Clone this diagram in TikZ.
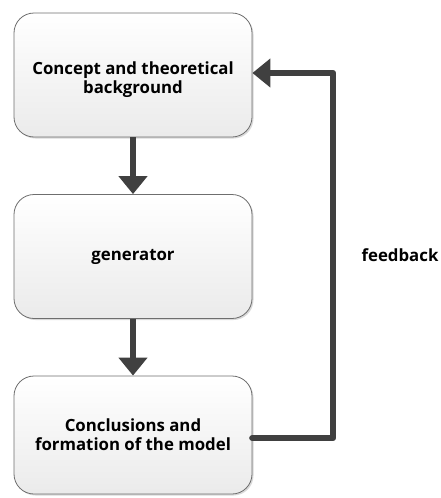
\documentclass[tikz,border=0pt]{standalone}
\usepackage{fontspec}
\setmainfont{Open Sans}
\usetikzlibrary{arrows.meta,shadows}
\definecolor{arr}{HTML}{404040}
\definecolor{bord}{HTML}{6E6E6E}
\tikzset{
  lbl/.style={font=\bfseries\fontsize{16.8}{19}\selectfont},
  box/.style={draw=bord, line width=0.8pt, rounded corners=20pt, minimum width=238pt, minimum height=124pt,
    top color=white, bottom color=black!8, align=center, lbl,
    drop shadow={shadow xshift=1.5pt, shadow yshift=-1.5pt, fill=black!25, opacity=0.6}},
  conn/.style={draw=arr, line width=6.5pt, -{Triangle[length=18pt,width=28pt]}},
  fb/.style={draw=arr, line width=6.5pt, line cap=round, line join=round, -{Triangle[length=18pt,width=28pt]}}
}
\begin{document}
\begin{tikzpicture}[x=1pt,y=-1pt]
\useasboundingbox (0,0) rectangle (440,498);
\node[box] (a) at (133,75) {\rule{0pt}{22pt}Concept and theoretical\\background};
\node[box] (b) at (133,256.5) {generator};
\node[box, minimum height=118pt] (c) at (133,435) {Conclusions and\\formation of the model};
\node[lbl] (f) at (400,255) {feedback};
\coordinate (c1) at (333,438);
\coordinate (c2) at (333,73);
\draw[conn] (a.south) -- (b.north);
\draw[conn] (b.south) -- (c.north);
\draw[fb] (c.east |- c1) -- (c1) -- (c2) -- (a.east |- c2);
\end{tikzpicture}
\end{document}
